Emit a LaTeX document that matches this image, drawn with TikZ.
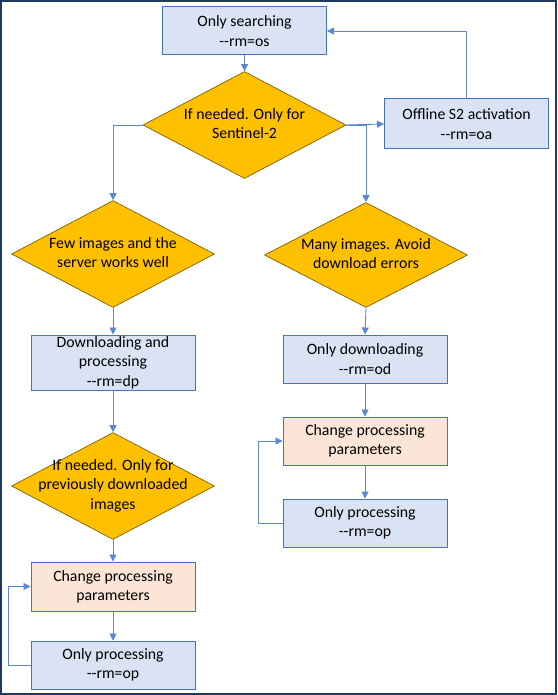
\documentclass[tikz,border=0pt]{standalone}
\usepackage{fontspec}
\setmainfont{Carlito}
\usetikzlibrary{shapes.geometric,arrows.meta}
\newcommand\rmopt[1]{\mbox{-}\mbox{-}rm=#1}
\newcommand\dtext[1]{\makebox[0pt]{\begin{tabular}{@{}c@{}}#1\end{tabular}}}
\definecolor{boxfill}{HTML}{DAE3F3}
\definecolor{boxline}{HTML}{4472C4}
\definecolor{pinkfill}{HTML}{FBE5D6}
\definecolor{decfill}{HTML}{FFC000}
\definecolor{decline}{HTML}{7F6000}
\definecolor{arrline}{HTML}{5B87D0}
\definecolor{frame}{HTML}{203864}
\begin{document}
\begin{tikzpicture}[x=1pt,y=-1pt,
  every node/.style={font=\fontsize{15.8}{19.3}\selectfont, text=black},
  procbox/.style={draw=boxline, line width=1pt, fill=boxfill, minimum width=164pt, align=center, inner sep=0pt},
  pinkbox/.style={procbox, fill=pinkfill},
  decision/.style={shape=diamond, draw=decline, line width=0.7pt, fill=decfill, inner sep=0pt, minimum width=203pt, minimum height=107pt},
  arr/.style={draw=arrline, line width=0.9pt, -{Triangle[length=7pt,width=7pt]}}]
\useasboundingbox (0,0) rectangle (557,695);
\draw[frame, line width=1.6pt] (0.8,0.8) rectangle (556.2,694.2);

\node[procbox, minimum height=48pt] (os) at (244.5,31) {Only searching\\\rmopt{os}};
\node[decision] (d1) at (244.5,125) {\dtext{If needed. Only for\\Sentinel-2}};
\node[procbox, minimum height=50pt] (oa) at (466.5,124) {Offline S2 activation\\\rmopt{oa}};
\node[decision] (d2) at (113,254) {\dtext{Few images and the\\server works well}};
\node[decision, minimum height=105pt] (d3) at (366,255) {\dtext{Many images. Avoid\\download errors}};
\node[procbox, minimum height=55pt] (dp) at (113,362.5) {Downloading and\\processing\\\rmopt{dp}};
\node[procbox, minimum height=48pt] (od) at (365,359) {Only downloading\\\rmopt{od}};
\node[pinkbox, minimum height=48pt] (cp2) at (365,441) {Change processing\\parameters};
\node[procbox, minimum height=48pt] (op2) at (365,523) {Only processing\\\rmopt{op}};
\node[decision] (d4) at (113,486) {\dtext{If needed. Only for\\previously downloaded\\images}};
\node[pinkbox, minimum height=49pt] (cp1) at (113,586.5) {Change processing\\parameters};
\node[procbox, minimum height=48pt] (op1) at (113,665) {Only processing\\\rmopt{op}};

\draw[arr] (os.south) -- (d1.north);
\draw[arr] (d1.east) -- (oa.west);
\draw[arr] (d1.east) -| (d3.north);
\draw[arr] (oa.north) |- (os.east);
\draw[arr] (d1.west) -| (d2.north);
\draw[arr] (d2.south) -- (dp.north);
\draw[arr] (dp.south) -- (d4.north);
\draw[arr] (d4.south) -- (cp1.north);
\draw[arr] (cp1.south) -- (op1.north);
\draw[arr] (op1.west) -- ++(-22,0) |- (cp1.west);
\draw[arr] (d3.south) -- (od.north);
\draw[arr] (od.south) -- (cp2.north);
\draw[arr] (cp2.south) -- (op2.north);
\draw[arr] (op2.west) -- ++(-24,0) |- (cp2.west);
\end{tikzpicture}
\end{document}
